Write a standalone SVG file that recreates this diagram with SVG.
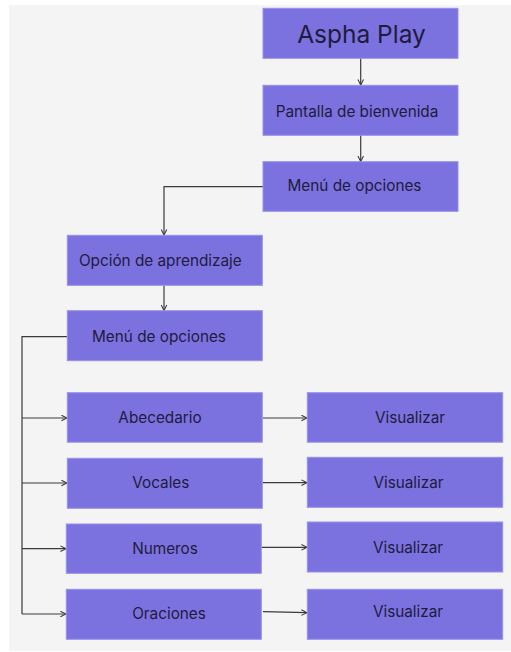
<svg xmlns="http://www.w3.org/2000/svg" width="511" height="652" viewBox="0 0 511 652">
<style>
.box{fill:#7b72e0;stroke:#9890ec;stroke-width:1}
.t{font-family:Inter,"Noto Sans","Liberation Sans",sans-serif;font-size:15.3px;fill:#1f1b3d;text-anchor:middle}
.title{font-size:24.5px}
.ln{fill:none;stroke:#3a3a3a;stroke-width:1.2}
</style>
<defs>
<marker id="ah" viewBox="0 0 10 10" refX="9" refY="5" markerWidth="7" markerHeight="7" markerUnits="userSpaceOnUse" orient="auto">
<path d="M1,1 L9,5 L1,9" fill="none" stroke="#3a3a3a" stroke-width="1.5"/>
</marker>
</defs>
<rect x="9" y="5" width="502" height="646" fill="#f4f4f4"/>
<g id="connectors">
<path class="ln" d="M360.7,58 V85" marker-end="url(#ah)"/>
<path class="ln" d="M360.7,135 V161.5" marker-end="url(#ah)"/>
<path class="ln" d="M263,186.7 H164 V235" marker-end="url(#ah)"/>
<path class="ln" d="M164,285.5 V310.5" marker-end="url(#ah)"/>
<path class="ln" d="M67,336.7 H22 V614"/>
<path class="ln" d="M22,418 H67" marker-end="url(#ah)"/>
<path class="ln" d="M22,483 H67" marker-end="url(#ah)"/>
<path class="ln" d="M22,548.7 H66" marker-end="url(#ah)"/>
<path class="ln" d="M22,614 H66" marker-end="url(#ah)"/>
<path class="ln" d="M263,418 H307" marker-end="url(#ah)"/>
<path class="ln" d="M262.5,482.7 H307" marker-end="url(#ah)"/>
<path class="ln" d="M261.5,547.3 H307" marker-end="url(#ah)"/>
<path class="ln" d="M263,611.7 L307,612.7" marker-end="url(#ah)"/>
</g>
<g id="aspha"><rect class="box" x="263" y="8.3" width="195" height="50"/><text class="t title" x="361.5" y="42.7">Aspha Play</text></g>
<g id="bienvenida"><rect class="box" x="263" y="85.3" width="195" height="50"/><text class="t" x="357" y="117.3">Pantalla de bienvenida</text></g>
<g id="menu1"><rect class="box" x="263" y="161.7" width="195" height="49.6"/><text class="t" x="354.5" y="191.3">Menú de opciones</text></g>
<g id="aprendizaje"><rect class="box" x="67.3" y="235.3" width="195" height="50"/><text class="t" x="160.3" y="265.7">Opción de aprendizaje</text></g>
<g id="menu2"><rect class="box" x="67.3" y="310.7" width="195" height="50"/><text class="t" x="159" y="341.7">Menú de opciones</text></g>
<g id="abecedario"><rect class="box" x="67.3" y="392.7" width="195" height="49.5"/><text class="t" x="160" y="423.3">Abecedario</text></g>
<g id="vis1"><rect class="box" x="307.3" y="392.7" width="195.4" height="49.5"/><text class="t" x="410" y="423.3">Visualizar</text></g>
<g id="vocales"><rect class="box" x="67.3" y="458.3" width="195" height="50"/><text class="t" x="160.8" y="488.3">Vocales</text></g>
<g id="vis2"><rect class="box" x="307.3" y="457.3" width="195.4" height="50"/><text class="t" x="408.5" y="488">Visualizar</text></g>
<g id="numeros"><rect class="box" x="66.3" y="524" width="195" height="49.3"/><text class="t" x="165" y="554.3">Numeros</text></g>
<g id="vis3"><rect class="box" x="307.3" y="522" width="195.4" height="50"/><text class="t" x="408" y="552.5">Visualizar</text></g>
<g id="oraciones"><rect class="box" x="66.3" y="589.3" width="195" height="50"/><text class="t" x="169" y="619.3">Oraciones</text></g>
<g id="vis4"><rect class="box" x="307.3" y="589.3" width="195.4" height="50"/><text class="t" x="408" y="617">Visualizar</text></g>
</svg>
